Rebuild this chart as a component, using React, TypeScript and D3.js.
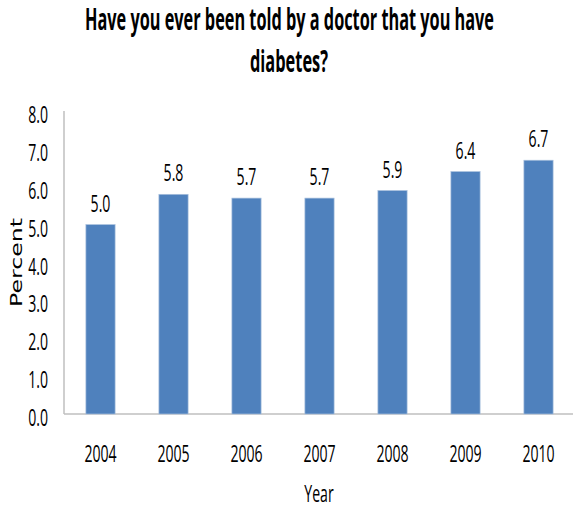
import React from "react";
import * as d3 from "d3";

const years = ["2004", "2005", "2006", "2007", "2008", "2009", "2010"];
const percents = [5.0, 5.8, 5.7, 5.7, 5.9, 6.4, 6.7];
const yTicks = [0, 1, 2, 3, 4, 5, 6, 7, 8];
const titleLines = ["Have you ever been told by a doctor that you have", "diabetes?"];

const W = 573;
const H = 508;
const FONT = "'Open Sans', 'Liberation Sans', sans-serif";
const SX = 0.6;
const NUM_SIZE = 23.5;

function NText({ x, y, anchor = "middle", size = NUM_SIZE, children }: { x: number; y: number; anchor?: string; size?: number; children: React.ReactNode }) {
  return (
    <text transform={`translate(${x},${y}) scale(${SX},1)`} textAnchor={anchor} fontFamily={FONT} fontSize={size} fill="#000">
      {children}
    </text>
  );
}

export default function App() {
  const x = d3.scaleBand<string>().domain(years).range([64, 575]).paddingInner(0.6).paddingOuter(0.3);
  const y = d3.scaleLinear().domain([0, 8]).range([414, 111]);
  const fmt = d3.format(".1f");
  return (
    <svg width={W} height={H} style={{ position: "absolute", left: 0, top: 0, background: "#fff" }}>
      <text x={289.5} y={30} textAnchor="middle" fontFamily={FONT} fontWeight="bold" fontSize={30} textLength={409} lengthAdjust="spacingAndGlyphs" fill="#000">
        {titleLines[0]}
      </text>
      <text x={289} y={72} textAnchor="middle" fontFamily={FONT} fontWeight="bold" fontSize={30} textLength={78} lengthAdjust="spacingAndGlyphs" fill="#000">
        {titleLines[1]}
      </text>
      <line x1={64} x2={64} y1={y(8)} y2={y(0)} stroke="#bfbfbf" strokeWidth={1.5} />
      <line x1={64} x2={W} y1={y(0)} y2={y(0)} stroke="#bfbfbf" strokeWidth={1.5} />
      {yTicks.map((t) => (
        <NText key={t} x={48} y={y(t) + 12} anchor="end">
          {fmt(t)}
        </NText>
      ))}
      <text transform={`translate(22,262.5) rotate(-90)`} textAnchor="middle" fontFamily="'DejaVu Sans', sans-serif" fontSize={16} textLength={89} lengthAdjust="spacingAndGlyphs" fill="#000">
        Percent
      </text>
      {years.map((yr, i) => {
        const cx = (x(yr) as number) + x.bandwidth() / 2;
        return (
          <g key={yr}>
            <rect x={x(yr)} y={y(percents[i])} width={x.bandwidth()} height={y(0) - y(percents[i])} fill="#4F81BD" stroke="#a9c0dd" strokeWidth={0.7} />
            <NText x={cx} y={y(percents[i]) - 13}>{fmt(percents[i])}</NText>
            <NText x={cx} y={462}>{yr}</NText>
          </g>
        );
      })}
      <NText x={319} y={502}>Year</NText>
    </svg>
  );
}
